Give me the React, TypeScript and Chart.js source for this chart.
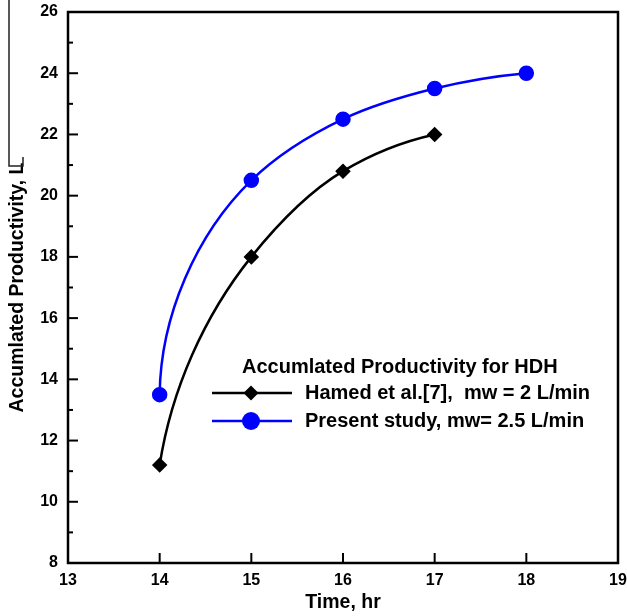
import React, { useEffect, useRef } from "react";
import { Chart, registerables } from "chart.js";

Chart.register(...registerables);

const hamedTime = [14, 15, 16, 17];
const hamedProd = [11.2, 18, 20.8, 22];
const presentTime = [14, 15, 16, 17, 18];
const presentProd = [13.5, 20.5, 22.5, 23.5, 24];
const xTicks = [13, 14, 15, 16, 17, 18, 19];
const yTicks = [8, 10, 12, 14, 16, 18, 20, 22, 24, 26];

const legendTitle = "Accumlated Productivity for HDH";
const hamedLabel = "Hamed et al.[7],  mw = 2 L/min";
const presentLabel = "Present study, mw= 2.5 L/min";

const FONT = "'Liberation Sans', Arial, sans-serif";
const BLUE = "#0000ff";

// Smooth parametric spline through the points (pixel space, computed from the scales)
const smoothPlugin = {
  id: "smoothSpline",
  beforeDatasetsDraw(chart: any) {
    chart.data.datasets.forEach((_ds: any, di: number) => {
      const meta = chart.getDatasetMeta(di);
      const line = meta.dataset;
      if (!line) return;
      line.updateControlPoints(chart.chartArea, "x");
      const pts = meta.data;
      const n = pts.length;
      if (n < 3) return;
      const d: number[] = [];
      const u: { x: number; y: number }[] = [];
      for (let i = 0; i < n - 1; i++) {
        const dx = pts[i + 1].x - pts[i].x;
        const dy = pts[i + 1].y - pts[i].y;
        const len = Math.hypot(dx, dy) || 1;
        d.push(len);
        u.push({ x: dx / len, y: dy / len });
      }
      const t: { x: number; y: number }[] = new Array(n);
      for (let i = 1; i < n - 1; i++) {
        const tx = d[i] * u[i - 1].x + d[i - 1] * u[i].x;
        const ty = d[i] * u[i - 1].y + d[i - 1] * u[i].y;
        const l = Math.hypot(tx, ty) || 1;
        t[i] = { x: tx / l, y: ty / l };
      }
      const reflect = (v: { x: number; y: number }, c: { x: number; y: number }) => {
        const dot = v.x * c.x + v.y * c.y;
        return { x: 2 * dot * c.x - v.x, y: 2 * dot * c.y - v.y };
      };
      t[0] = reflect(t[1], u[0]);
      t[n - 1] = reflect(t[n - 2], u[n - 2]);
      for (let i = 0; i < n - 1; i++) {
        const L = d[i] / 3;
        pts[i].cp2x = pts[i].x + t[i].x * L;
        pts[i].cp2y = pts[i].y + t[i].y * L;
        pts[i + 1].cp1x = pts[i + 1].x - t[i + 1].x * L;
        pts[i + 1].cp1y = pts[i + 1].y - t[i + 1].y * L;
      }
    });
  },
};

const framePlugin = {
  id: "frameTicks",
  afterDraw(chart: any) {
    const { ctx, chartArea } = chart;
    const xs = chart.scales.x;
    const ys = chart.scales.y;
    ctx.save();
    ctx.strokeStyle = "#000";
    ctx.lineWidth = 2.5;
    ctx.strokeRect(chartArea.left, chartArea.top, chartArea.right - chartArea.left, chartArea.bottom - chartArea.top);
    ctx.lineWidth = 2;
    for (let v = 9; v <= 25; v += 1) {
      const y = ys.getPixelForValue(v);
      const len = v % 2 === 0 ? 10 : 5;
      ctx.beginPath();
      ctx.moveTo(chartArea.left, y);
      ctx.lineTo(chartArea.left + len, y);
      ctx.stroke();
    }
    for (const v of xTicks) {
      if (v === xTicks[0] || v === xTicks[xTicks.length - 1]) continue;
      const x = xs.getPixelForValue(v);
      ctx.beginPath();
      ctx.moveTo(x, chartArea.bottom);
      ctx.lineTo(x, chartArea.bottom - 10);
      ctx.stroke();
    }
    // stray bracket line at left edge of the source image
    ctx.strokeStyle = "#222";
    ctx.lineWidth = 1.5;
    ctx.beginPath();
    ctx.moveTo(9, 0);
    ctx.lineTo(9, 166);
    ctx.lineTo(23, 166);
    ctx.lineTo(23, 157);
    ctx.stroke();

    // legend
    ctx.fillStyle = "#000";
    ctx.font = `bold 20px ${FONT}`;
    ctx.textBaseline = "middle";
    ctx.textAlign = "left";
    ctx.fillText(legendTitle, 242, 367);
    const rows = [
      { y: 393, color: "#000", label: hamedLabel, diamond: true },
      { y: 421, color: BLUE, label: presentLabel, diamond: false },
    ];
    for (const r of rows) {
      ctx.strokeStyle = r.color;
      ctx.lineWidth = 2.5;
      ctx.beginPath();
      ctx.moveTo(212, r.y);
      ctx.lineTo(292, r.y);
      ctx.stroke();
      ctx.fillStyle = r.color;
      ctx.beginPath();
      if (r.diamond) {
        ctx.moveTo(251, r.y - 7.5);
        ctx.lineTo(258.5, r.y);
        ctx.lineTo(251, r.y + 7.5);
        ctx.lineTo(243.5, r.y);
        ctx.closePath();
      } else {
        ctx.arc(251, r.y, 9, 0, Math.PI * 2);
      }
      ctx.fill();
      ctx.fillStyle = "#000";
      ctx.fillText(r.label, 305, r.y);
    }
    ctx.restore();
  },
};

export default function App() {
  const ref = useRef<HTMLCanvasElement>(null);
  useEffect(() => {
    document.body.style.margin = "0";
    const chart = new Chart(ref.current!, {
      type: "scatter",
      data: {
        datasets: [
          {
            label: hamedLabel,
            data: hamedTime.map((t, i) => ({ x: t, y: hamedProd[i] })),
            showLine: true,
            borderColor: "#000",
            backgroundColor: "#000",
            borderWidth: 2.5,
            pointStyle: "rectRot",
            pointRadius: 6,
            tension: 0.4,
          },
          {
            label: presentLabel,
            data: presentTime.map((t, i) => ({ x: t, y: presentProd[i] })),
            showLine: true,
            borderColor: BLUE,
            backgroundColor: BLUE,
            borderWidth: 2.5,
            pointStyle: "circle",
            pointRadius: 6.5,
            tension: 0.4,
          },
        ],
      },
      options: {
        animation: false,
        responsive: true,
        maintainAspectRatio: false,
        layout: { padding: { top: 12, right: 8, bottom: 0, left: 0 } },
        plugins: { legend: { display: false }, tooltip: { enabled: false } },
        scales: {
          x: {
            type: "linear",
            min: 13,
            max: 19,
            afterBuildTicks: (s: any) => {
              s.ticks = xTicks.map((v) => ({ value: v }));
            },
            afterFit: (s: any) => {
              s.height = 53;
              s.paddingLeft = 0;
              s.paddingRight = 0;
            },
            grid: { display: false, drawTicks: false },
            border: { display: false },
            ticks: {
              color: "#000",
              padding: 8,
              font: { family: FONT, size: 16, weight: "bold" },
            },
            title: {
              display: true,
              text: "Time, hr",
              color: "#000",
              padding: { bottom: 2, top: 0 },
              font: { family: FONT, size: 19.5, weight: "bold" },
            },
          },
          y: {
            type: "linear",
            min: 8,
            max: 26,
            afterBuildTicks: (s: any) => {
              s.ticks = yTicks.map((v) => ({ value: v }));
            },
            afterFit: (s: any) => {
              s.width = 68;
              s.paddingTop = 0;
              s.paddingBottom = 0;
            },
            grid: { display: false, drawTicks: false },
            border: { display: false },
            ticks: {
              color: "#000",
              padding: 10,
              font: { family: FONT, size: 16, weight: "bold" },
            },
            title: {
              display: true,
              text: "Accumlated Productivity, L",
              color: "#000",
              padding: { top: 6, bottom: 0 },
              font: { family: FONT, size: 19.5, weight: "bold" },
            },
          },
        },
      },
      plugins: [smoothPlugin, framePlugin],
    });
    return () => chart.destroy();
  }, []);
  return (
    <div style={{ width: 627, height: 616, position: "relative" }}>
      <canvas ref={ref} />
    </div>
  );
}
